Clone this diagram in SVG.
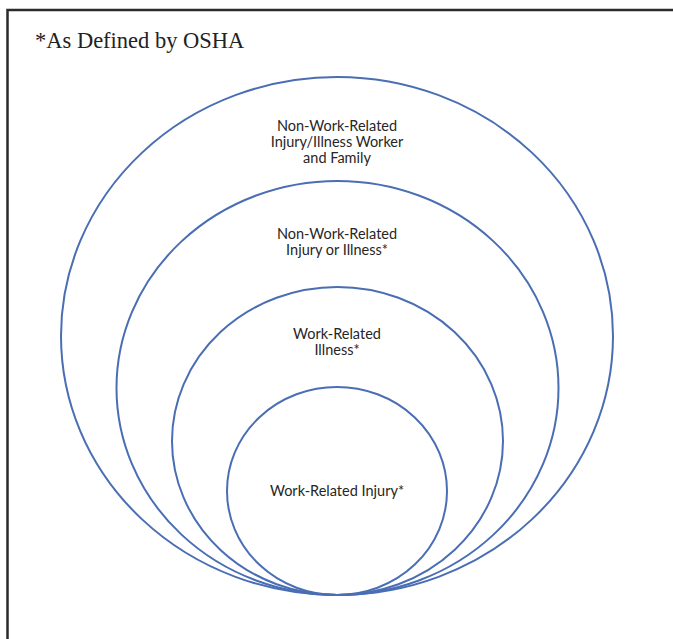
<svg xmlns="http://www.w3.org/2000/svg" width="673" height="639" viewBox="0 0 673 639">
  <style>
    .ring { fill: none; stroke: #4a6eb4; stroke-width: 2; }
    .lbl { font-family: Lato, "Open Sans", sans-serif; font-size: 14.5px; fill: #262626; text-anchor: middle; }
    .note { font-family: "Liberation Serif", serif; font-size: 22.5px; fill: #222; }
    .frame { fill: none; stroke: #2b2b2b; stroke-width: 2.5; }
  </style>
  <rect width="673" height="639" fill="#fff"/>
  <!-- open frame: left and top edges only -->
  <path class="frame" d="M7.5 639 V10 H673"/>
  <text class="note" x="35" y="48">*As Defined by OSHA</text>

  <g id="outer">
    <ellipse class="ring" cx="337" cy="336" rx="276" ry="259"/>
    <text class="lbl"><tspan x="337" y="131">Non-Work-Related</tspan><tspan x="337" y="147">Injury/Illness Worker</tspan><tspan x="337" y="163">and Family</tspan></text>
  </g>
  <g id="nonwork">
    <ellipse class="ring" cx="337.5" cy="388" rx="221" ry="207"/>
    <text class="lbl"><tspan x="337" y="239">Non-Work-Related</tspan><tspan x="337" y="255">Injury or Illness*</tspan></text>
  </g>
  <g id="illness">
    <ellipse class="ring" cx="337.5" cy="441" rx="165.5" ry="154"/>
    <text class="lbl"><tspan x="337" y="339">Work-Related</tspan><tspan x="337" y="355">Illness*</tspan></text>
  </g>
  <g id="injury">
    <ellipse class="ring" cx="337" cy="491" rx="110" ry="104"/>
    <text class="lbl" x="337" y="496">Work-Related Injury*</text>
  </g>
  <g id="connectors"/>
</svg>
